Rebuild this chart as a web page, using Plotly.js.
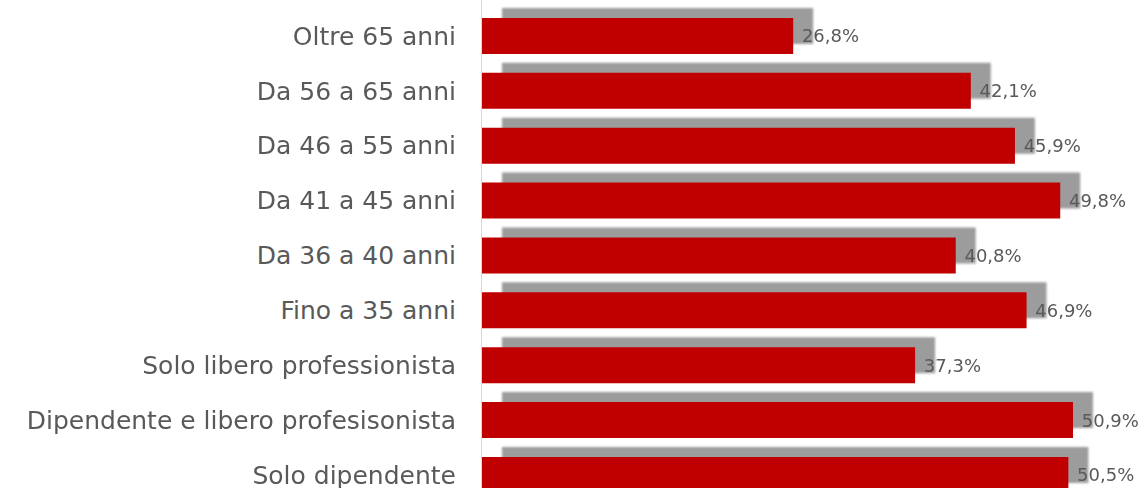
<!DOCTYPE html>
<html><head><meta charset="utf-8">
<script src="https://cdn.plot.ly/plotly-3.0.1.min.js"></script>
<style>html,body{margin:0;padding:0;background:#fff;}#chart{width:1145px;height:488px;}</style>
</head><body><div id="chart"></div>
<script>
const categories = ["Oltre 65 anni","Da 56 a 65 anni","Da 46 a 55 anni","Da 41 a 45 anni","Da 36 a 40 anni","Fino a 35 anni","Solo libero professionista","Dipendente e libero profesisonista","Solo dipendente"];
const values = [26.8, 42.1, 45.9, 49.8, 40.8, 46.9, 37.3, 50.9, 50.5];

const pos = categories.map((c,i)=>i);
const W = 0.656;
const shadow = {
  type:'bar', orientation:'h', y:pos, x:values, base:1.72,
  width:W, offset:-W/2-0.182,
  marker:{color:'#9c9c9c', line:{width:0}}, hoverinfo:'skip', showlegend:false
};
const bars = {
  type:'bar', orientation:'h', y:pos, x:values,
  width:W,
  marker:{color:'#C00000', line:{width:0}},
  texttemplate:'\u00a0%{x:.1f}%', textposition:'outside', cliponaxis:false,
  textfont:{family:'"DejaVu Sans", sans-serif', size:18, color:'#595959'},
  showlegend:false
};
const layout = {
  width:1145, height:488,
  margin:{l:482, r:0, t:0, b:0},
  barmode:'overlay', separators:', ',
  paper_bgcolor:'#fff', plot_bgcolor:'#fff',
  xaxis:{range:[0,57.1], visible:false, fixedrange:true},
  yaxis:{range:[8.239,-0.656], tickmode:'array', tickvals:pos, ticktext:categories,
    showgrid:false, zeroline:false, showline:true, linecolor:'#d9d9d9', linewidth:1,
    ticks:'outside', ticklen:20, tickcolor:'rgba(0,0,0,0)', ticklabeloverflow:'allow',
    automargin:false,
    tickfont:{family:'"DejaVu Sans", sans-serif', size:25, color:'#595959'}},
  font:{family:'"DejaVu Sans", sans-serif'}
};
Plotly.newPlot('chart',[shadow,bars],layout,{displayModeBar:false,staticPlot:true}).then(()=>{
  const t = document.querySelectorAll('.barlayer .trace');
  if (t.length) t[0].style.filter = 'blur(1.2px)';
});
</script></body></html>
